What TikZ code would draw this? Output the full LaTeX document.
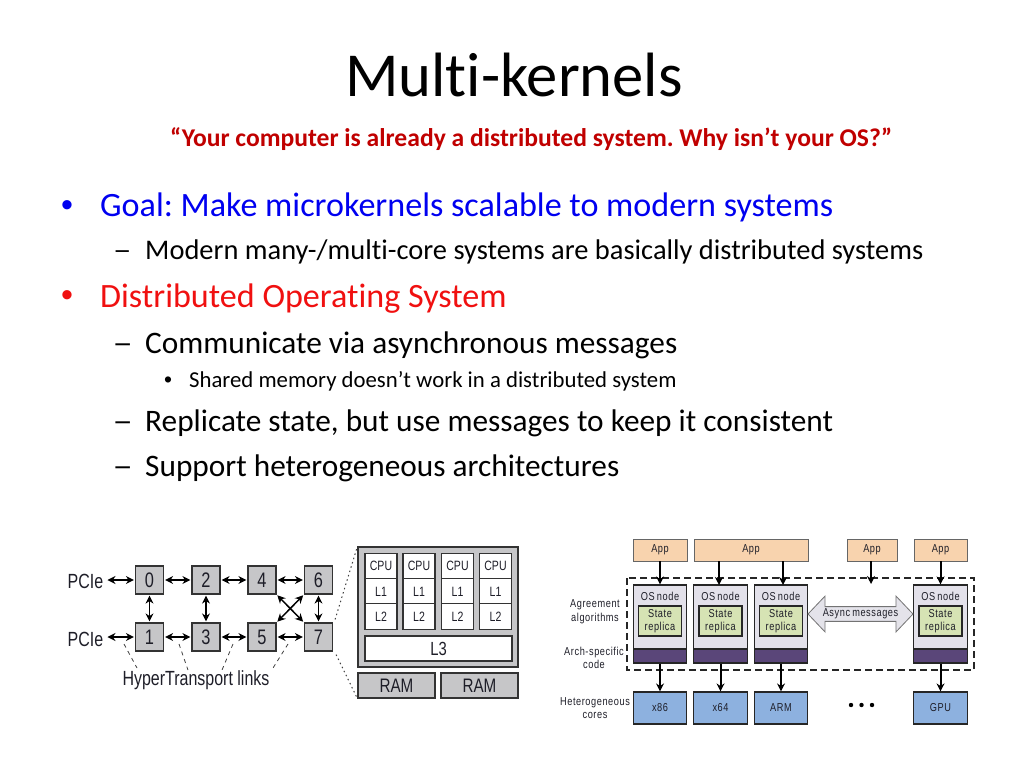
\documentclass[tikz,border=0pt]{standalone}
\usepackage{fontspec}
\setmainfont[Ligatures=NoCommon]{Carlito}
\newfontfamily\dashfont[FakeStretch=1.3]{Carlito}
\newfontfamily\bulletfont{Liberation Sans}
\newfontfamily\figfont[FakeStretch=0.78]{Liberation Sans}
\newfontfamily\labfont[LetterSpace=5,FakeStretch=0.8,WordSpace=0.7]{Liberation Sans}
\usetikzlibrary{arrows.meta,shapes.arrows}
\definecolor{slideblue}{HTML}{0000F0}
\definecolor{slidered}{HTML}{F01010}
\definecolor{quotered}{HTML}{C00000}
\definecolor{inktext}{HTML}{1E1E28}
\definecolor{boxgrey}{HTML}{C6C6C8}
\definecolor{appfill}{HTML}{F8D3AE}
\definecolor{osfill}{HTML}{E3E1EA}
\definecolor{statefill}{HTML}{D6E3B4}
\definecolor{archfill}{HTML}{5A4679}
\definecolor{corefill}{HTML}{8DB1DF}
\definecolor{asyncfill}{HTML}{E4E3EA}
\tikzset{
  slide/.style={anchor=base west,inner sep=0pt,text=black},
  lvlone/.style={slide,font=\fontsize{34.1}{36}\selectfont},
  lvltwo/.style={slide,font=\fontsize{31.3}{34}\selectfont},
  lvltwosmall/.style={slide,font=\fontsize{28.45}{32}\selectfont},
  lvlthree/.style={slide,font=\fontsize{22.75}{26}\selectfont},
  dashmark/.style={slide,font=\dashfont\fontsize{31.3}{34}\selectfont},
  dashsmall/.style={slide,font=\dashfont\fontsize{28.45}{32}\selectfont},
  bulletone/.style={slide,font=\bulletfont\fontsize{34.1}{36}\selectfont},
  bullettwo/.style={slide,font=\bulletfont\fontsize{22.75}{26}\selectfont},
  figbox/.style={draw=black!80,line width=1.2pt,inner sep=0pt,text=inktext,font=\figfont\fontsize{18}{20}\selectfont},
  hub/.style={figbox,fill=boxgrey,minimum width=28pt,minimum height=28pt,font=\figfont\fontsize{21}{24}\selectfont},
  cache/.style={figbox,fill=white,minimum width=32pt,minimum height=25.5pt,font=\figfont\fontsize{13.5}{16}\selectfont},
  ram/.style={figbox,fill=boxgrey,minimum width=77pt,minimum height=25pt,font=\figfont\fontsize{19.5}{22}\selectfont},
  figtext/.style={inner sep=0pt,text=inktext,font=\figfont\fontsize{20.5}{23}\selectfont},
  biarrow/.style={{Stealth[length=8pt,width=8pt]}-{Stealth[length=8pt,width=8pt]},line width=1.5pt,black,shorten <=1pt,shorten >=1pt},
  leader/.style={dash pattern=on 4pt off 4pt,line width=.8pt,black!75},
  dotleader/.style={dash pattern=on 1.5pt off 3pt,line width=1pt,black!75},
  appbox/.style={draw=black!60,line width=.8pt,fill=appfill,inner sep=0pt,minimum height=22pt,text=inktext,font=\labfont\fontsize{11.5}{13}\selectfont},
  osbox/.style={draw=black!85,line width=1.2pt,fill=osfill,minimum width=53.5pt,minimum height=78pt,inner sep=0pt},
  archbox/.style={draw=black!85,line width=1.2pt,fill=archfill,minimum width=53.5pt,minimum height=14pt,inner sep=0pt},
  statebox/.style={draw=black!85,line width=1.2pt,fill=statefill,minimum width=43pt,minimum height=30pt,inner sep=0pt,align=center,text=inktext,font=\labfont\fontsize{11.5}{13.5}\selectfont},
  corebox/.style={draw=black!85,line width=1.2pt,fill=corefill,minimum width=53.5pt,minimum height=32pt,inner sep=0pt,text=inktext,font=\labfont\fontsize{11.5}{13}\selectfont},
  ostext/.style={inner sep=0pt,text=inktext,font=\labfont\fontsize{11.5}{13}\selectfont},
  sidelabel/.style={inner sep=0pt,align=center,text=inktext,font=\labfont\fontsize{11.5}{13.5}\selectfont},
  flow/.style={-{Stealth[length=8pt,width=8pt]},line width=2pt,black}
}
\begin{document}
\frenchspacing
\begin{tikzpicture}[x=1pt,y=-1pt]
\useasboundingbox (0,0) rectangle (1024,768);
% slide text
\node[slide,font=\fontsize{62.6}{66}\selectfont] (title) at (345,96) {Multi-kernels};
\node[slide,text=quotered,font=\bfseries\fontsize{25.6}{28}\selectfont] (quote) at (170,146) {“Your computer is already a distributed system. Why isn’t your OS?”};
\node[bulletone,text=slideblue] (b1) at (61,216) {•};
\node[lvlone,text=slideblue] (goal) at (100,216) {Goal: Make microkernels scalable to modern systems};
\node[dashsmall] (d1) at (113,259) {–};
\node[lvltwosmall] (modern) at (145,259) {Modern many-/multi-core systems are basically distributed systems};
\node[bulletone,text=slidered] (b2) at (61,306) {•};
\node[lvlone,text=slidered] (dist) at (100,307) {Distributed Operating System};
\node[dashmark] (d2) at (112.5,353) {–};
\node[lvltwo] (comm) at (145,353) {Communicate via asynchronous messages};
\node[bullettwo] (b3) at (164,387) {•};
\node[lvlthree] (shared) at (189,387) {Shared memory doesn’t work in a distributed system};
\node[dashmark] (d3) at (112.5,431) {–};
\node[lvltwo] (repl) at (145,431) {Replicate state, but use messages to keep it consistent};
\node[dashmark] (d4) at (112.5,476) {–};
\node[lvltwo] (supp) at (145,476) {Support heterogeneous architectures};
% left figure: hubs
\node[hub] (n0) at (149.5,580) {0};
\node[hub] (n2) at (206,580) {2};
\node[hub] (n4) at (262,580) {4};
\node[hub] (n6) at (318.5,580) {6};
\node[hub] (n1) at (149.5,637) {1};
\node[hub] (n3) at (206,637) {3};
\node[hub] (n5) at (262,637) {5};
\node[hub] (n7) at (318.5,637) {7};
\node[figtext] (pa) at (85.5,581) {PCIe};
\node[figtext] (pb) at (85.5,639) {PCIe};
\node[figtext] (ht) at (196,680) {HyperTransport links};
\draw[biarrow] (pa.east) ++(3,-1) coordinate (pae) (pae) -- (n0);
\draw[biarrow] (pb.east) ++(3,-2) coordinate (pbe) (pbe) -- (n1);
\foreach \a/\b in {n0/n2,n2/n4,n4/n6,n1/n3,n3/n5,n5/n7,n0/n1,n2/n3,n6/n7}
  \draw[biarrow] (\a) -- (\b);
\draw[biarrow] (n4.south east) -- (n7.north west);
\draw[biarrow] (n5.north east) -- (n6.south west);
\coordinate (la1) at (124,644); \coordinate (lb1) at (137,668);
\coordinate (la2) at (179,644); \coordinate (lb2) at (188,670);
\coordinate (la3) at (233,644); \coordinate (lb3) at (222,670);
\coordinate (la4) at (288,644); \coordinate (lb4) at (273,668);
\foreach \i in {1,2,3,4} \draw[leader] (la\i) -- (lb\i);
% left figure: chip detail
\node[figbox,fill=boxgrey,minimum width=160pt,minimum height=120pt] (chip) at (438,607) {};
\foreach \i/\x in {1/381,2/419,3/457.5,4/495.5} {
  \node[cache] (cpu\i) at (\x,566) {CPU};
  \node[cache] (lone\i) at (\x,591.5) {L1};
  \node[cache] (ltwo\i) at (\x,616.5) {L2};
}
\node[figbox,fill=white,minimum width=147pt,minimum height=25pt,font=\figfont\fontsize{19}{22}\selectfont] (lthree) at (438.5,648.5) {L3};
\node[ram] (ram1) at (396.5,685.5) {RAM};
\node[ram] (ram2) at (479.5,685.5) {RAM};
\draw[dotleader] (n7.north east) ++(2,-3) coordinate (dota) (dota) -- (chip.north west);
\draw[dotleader] (n7.south east) ++(3,3) coordinate (dotb) (dotb) -- (ram1.south west);
% right figure
\node[appbox,minimum width=54pt] (app1) at (660,550) {App};
\node[appbox,minimum width=114pt] (app2) at (751,550) {App};
\node[appbox,minimum width=50pt] (app3) at (872,550) {App};
\node[appbox,minimum width=53pt] (app4) at (940.5,550) {App};
\foreach \i/\x in {1/660,2/720.5,3/781,4/940.5} {
  \node[osbox] (os\i) at (\x,624) {};
  \node[archbox] (arch\i) at (\x,656) {};
  \node[ostext] (ost\i) at (\x,596) {OS node};
  \node[statebox] (st\i) at (\x,621) {State\\replica};
}
\node[corebox] (x86) at (660,708) {x86};
\node[corebox] (x64) at (720.5,708) {x64};
\node[corebox] (arm) at (781,708) {ARM};
\node[corebox] (gpu) at (940.5,708) {GPU};
\coordinate (dnw) at (627,578); \coordinate (dse) at (974,670);
\draw[line width=1.5pt,black!85,dash pattern=on 7pt off 4pt] (dnw) rectangle (dse);
\coordinate (app2a) at (719,561); \coordinate (app2b) at (783,561);
\coordinate (os2t) at (719,585); \coordinate (os3t) at (783,585);
\draw[flow] (app1) -- (os1);
\draw[flow] (app2a) -- (os2t);
\draw[flow] (app2b) -- (os3t);
\coordinate (app3end) at (871,584);
\draw[flow] (app3.south -| app3end) -- (app3end);
\draw[flow] (app4) -- (os4);
\draw[flow] (arch1) -- (x86);
\draw[flow] (arch2) -- (x64);
\draw[flow] (arch3) -- (arm);
\draw[flow] (arch4) -- (gpu);
\node[double arrow,draw=black!55,line width=.8pt,fill=asyncfill,minimum height=105pt,minimum width=36pt,double arrow head extend=8pt,double arrow tip angle=93,inner sep=0pt,align=center,text=inktext,font=\labfont\fontsize{11.5}{13}\selectfont] (async) at (860.5,614) {\mbox{Async messages}};
\node[sidelabel] (agree) at (595,611.5) {Agreement\\algorithms};
\node[sidelabel] (archl) at (594,658) {Arch-specific\\code};
\node[sidelabel] (hetero) at (595,708) {Heterogeneous\\cores};
\foreach \i/\x in {1/851,2/861.5,3/872} \fill[black] (\x,705) circle (2.2pt) coordinate (dot\i);
\end{tikzpicture}
\end{document}
